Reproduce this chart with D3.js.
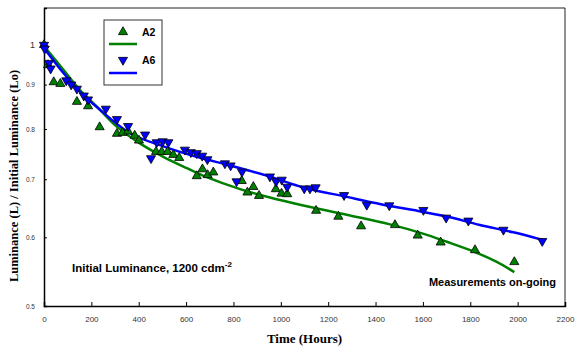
<!DOCTYPE html>
<html lang="en">
<head>
<meta charset="UTF-8">
<title>Luminance decay</title>
<script src="https://cdn.jsdelivr.net/npm/d3@7"></script>
<style>
  body { margin: 0; background: #fff; }
</style>
</head>
<body>
<svg width="576" height="350" id="mainsvg"></svg>
<script>
// measured points, A2 (green up triangles)
const a2Hours = [0, 17, 41, 69, 139, 186, 235, 308, 332, 355, 383, 401, 473, 497, 522, 546, 571,
  645, 669, 691, 715, 835, 859, 884, 908, 979, 1003, 1027, 1149, 1243, 1339, 1482, 1578, 1675, 1820, 1986];
const a2Lum = [1.0, 0.948, 0.906, 0.902, 0.860, 0.850, 0.804, 0.790, 0.792, 0.795, 0.786, 0.776, 0.753, 0.753, 0.753, 0.747, 0.741,
  0.706, 0.719, 0.708, 0.713, 0.697, 0.676, 0.686, 0.670, 0.682, 0.674, 0.673, 0.644, 0.634, 0.618, 0.620, 0.603, 0.592, 0.580, 0.562];

// measured points, A6 (blue down triangles)
const a6Hours = [0, 3, 21, 28, 94, 115, 139, 168, 186, 261, 308, 355, 427, 452, 476, 501, 525, 595, 620, 645, 668, 690,
  764, 788, 813, 836, 954, 980, 1004, 1027, 1099, 1123, 1147, 1267, 1363, 1458, 1602, 1698, 1792, 1940, 2104];
const a6Lum = [1.0, 0.990, 0.953, 0.939, 0.910, 0.900, 0.890, 0.874, 0.865, 0.844, 0.821, 0.806, 0.788, 0.740, 0.772, 0.774, 0.772, 0.757, 0.752, 0.750, 0.745, 0.738,
  0.730, 0.726, 0.696, 0.714, 0.705, 0.696, 0.699, 0.686, 0.683, 0.683, 0.685, 0.671, 0.654, 0.653, 0.645, 0.632, 0.627, 0.612, 0.594];

// fitted curves
const fitA2Hours = [0, 82, 152, 223, 307, 405, 504, 603, 687, 828, 954, 1095, 1278, 1461, 1600, 1701, 1820, 1912, 1986];
const fitA2Lum = [0.997, 0.936, 0.887, 0.849, 0.805, 0.770, 0.743, 0.721, 0.704, 0.682, 0.667, 0.653, 0.637, 0.621, 0.606, 0.593, 0.577, 0.562, 0.547];
const fitA6Hours = [0, 82, 152, 223, 363, 504, 645, 786, 954, 1095, 1278, 1461, 1560, 1701, 1841, 1982, 2104];
const fitA6Lum = [0.992, 0.928, 0.883, 0.848, 0.791, 0.764, 0.743, 0.726, 0.705, 0.685, 0.668, 0.652, 0.645, 0.634, 0.620, 0.608, 0.596];

const xTicks = [0, 200, 400, 600, 800, 1000, 1200, 1400, 1600, 1800, 2000, 2200];
const yTicks = [0.5, 0.6, 0.7, 0.8, 0.9, 1];

const svg = d3.select('#mainsvg');
const margin = { top: 8, left: 44, right: 11, bottom: 44 };
const width = +svg.attr('width');
const height = +svg.attr('height');
const innerWidth = width - margin.left - margin.right;
const innerHeight = height - margin.top - margin.bottom;

const x = d3.scaleLinear().domain([0, 2200]).range([0, innerWidth]);
const y = d3.scaleLog().domain([0.5, 1.103]).range([innerHeight, 0]);

const g = svg.append('g').attr('transform', `translate(${margin.left},${margin.top})`);

// frame top / right
g.append('line').attr('x1', 0).attr('x2', innerWidth).attr('y1', 0).attr('y2', 0)
  .attr('stroke', '#222').attr('stroke-width', 1);
g.append('line').attr('x1', innerWidth).attr('x2', innerWidth).attr('y1', 0).attr('y2', innerHeight)
  .attr('stroke', '#222').attr('stroke-width', 1);

// axes
const xAxis = g.append('g').attr('transform', `translate(0,${innerHeight})`)
  .call(d3.axisBottom(x).tickValues(xTicks).tickSize(-4).tickPadding(10).tickFormat(d3.format('d')));
const yAxis = g.append('g')
  .call(d3.axisLeft(y).tickValues(yTicks).tickSize(-3).tickPadding(9).tickFormat(d => d));

[xAxis, yAxis].forEach(a => {
  a.select('.domain').attr('stroke', '#000').attr('stroke-width', 1.5);
  a.selectAll('.tick line').attr('stroke', '#000');
  a.selectAll('text').attr('fill', '#333').attr('font-family', 'Liberation Sans, Arial, sans-serif');
});
xAxis.selectAll('text').attr('font-size', 8);
yAxis.selectAll('text').attr('font-size', d => d === 1 ? 9 : 6.5);

// fit lines
const line = d3.line().x(d => x(d[0])).y(d => y(d[1])).curve(d3.curveCatmullRom);
g.append('path').datum(d3.zip(fitA2Hours, fitA2Lum))
  .attr('d', line).attr('fill', 'none').attr('stroke', '#008000').attr('stroke-width', 2.5);
g.append('path').datum(d3.zip(fitA6Hours, fitA6Lum))
  .attr('d', line).attr('fill', 'none').attr('stroke', '#0000ff').attr('stroke-width', 2.5);

// markers
const tri = d3.symbol().type(d3.symbolTriangle).size(36);
g.selectAll('.a2').data(d3.zip(a2Hours, a2Lum)).enter()
  .append('path').attr('class', 'a2')
  .attr('d', tri)
  .attr('transform', d => `translate(${x(d[0])},${y(d[1])})`)
  .attr('fill', '#008000').attr('stroke', '#000').attr('stroke-width', 0.8);
g.selectAll('.a6').data(d3.zip(a6Hours, a6Lum)).enter()
  .append('path').attr('class', 'a6')
  .attr('d', tri)
  .attr('transform', d => `translate(${x(d[0])},${y(d[1])}) rotate(180)`)
  .attr('fill', '#0000ff').attr('stroke', '#000').attr('stroke-width', 0.8);

// legend
const lg = svg.append('g').attr('transform', 'translate(104,20)');
lg.append('rect').attr('width', 58).attr('height', 65)
  .attr('fill', '#fff').attr('stroke', '#333').attr('stroke-width', 1);
lg.append('path').attr('d', tri).attr('transform', 'translate(19,12)')
  .attr('fill', '#008000').attr('stroke', '#000').attr('stroke-width', 0.8);
lg.append('text').attr('x', 38).attr('y', 16).text('A2')
  .attr('font-family', 'Liberation Sans, Arial, sans-serif').attr('font-weight', 'bold').attr('font-size', 10.5);
lg.append('line').attr('x1', 5).attr('x2', 33).attr('y1', 24).attr('y2', 24)
  .attr('stroke', '#008000').attr('stroke-width', 2.5);
lg.append('path').attr('d', tri).attr('transform', 'translate(19,40) rotate(180)')
  .attr('fill', '#0000ff').attr('stroke', '#000').attr('stroke-width', 0.8);
lg.append('text').attr('x', 38).attr('y', 44).text('A6')
  .attr('font-family', 'Liberation Sans, Arial, sans-serif').attr('font-weight', 'bold').attr('font-size', 10.5);
lg.append('line').attr('x1', 5).attr('x2', 33).attr('y1', 53).attr('y2', 53)
  .attr('stroke', '#0000ff').attr('stroke-width', 2.5);

// annotations
const note = svg.append('text').attr('x', 72).attr('y', 272)
  .attr('font-family', 'Liberation Sans, Arial, sans-serif').attr('font-weight', 'bold').attr('font-size', 11.5);
note.append('tspan').text('Initial Luminance, 1200 cdm');
note.append('tspan').attr('dy', -5).attr('font-size', 8).text('-2');
svg.append('text').attr('x', 556).attr('y', 286).attr('text-anchor', 'end')
  .attr('font-family', 'Liberation Sans, Arial, sans-serif').attr('font-weight', 'bold').attr('font-size', 11)
  .text('Measurements on-going');

// axis titles
svg.append('text').attr('x', margin.left + innerWidth / 2).attr('y', 343).attr('text-anchor', 'middle')
  .attr('font-family', 'Liberation Serif, Times New Roman, serif').attr('font-weight', 'bold').attr('font-size', 13)
  .text('Time (Hours)');
svg.append('text').attr('transform', 'translate(18,176) rotate(-90)').attr('text-anchor', 'middle')
  .attr('font-family', 'Liberation Serif, Times New Roman, serif').attr('font-weight', 'bold').attr('font-size', 12.5)
  .text('Luminance (L) / Initial Luminance (Lo)');
</script>
</body>
</html>
